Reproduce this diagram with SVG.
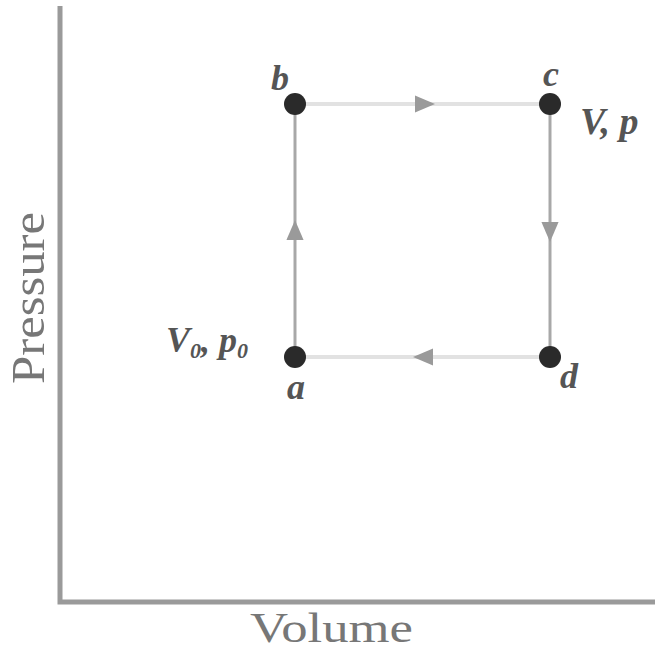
<svg xmlns="http://www.w3.org/2000/svg" width="655" height="653" viewBox="0 0 655 653">
<style>
.axis{stroke:#9a9a9a;stroke-width:5;fill:none}
.edge{fill:none;stroke-width:3}
.v{stroke:#a8a8a8}
.h{stroke:#e2e2e2;stroke-width:4}
.dot{fill:#2a2a2a}
.lbl{font-family:"Liberation Serif",serif;font-style:italic;font-weight:bold;fill:#555}
.ax{font-family:"Liberation Serif",serif;fill:#777}
</style>
<defs>
<marker id="ah" markerUnits="userSpaceOnUse" markerWidth="20" markerHeight="20" refX="7" refY="7" orient="auto" viewBox="0 0 14 14">
<path d="M0,1 L14,7 L0,13 Z" fill="#9a9a9a"/>
</marker>
</defs>
<rect width="655" height="653" fill="#ffffff"/>
<g id="axes">
<path class="axis" d="M60,6 L60,602 L655,602"/>
<text class="ax" font-size="46" transform="translate(44,298) rotate(-90)" text-anchor="middle" textLength="172" lengthAdjust="spacingAndGlyphs">Pressure</text>
<text class="ax" font-size="42" x="250" y="642" textLength="163" lengthAdjust="spacingAndGlyphs">Volume</text>
</g>
<g id="connectors">
<path class="edge v" d="M295,357 L295,230 L295,104" marker-mid="url(#ah)"/>
<path class="edge h" d="M295,104 L425,104 L550,104" marker-mid="url(#ah)"/>
<path class="edge v" d="M550,104 L550,232 L550,357" marker-mid="url(#ah)"/>
<path class="edge h" d="M550,357 L423,357 L295,357" marker-mid="url(#ah)"/>
</g>
<g id="node-a">
<circle class="dot" cx="295" cy="357" r="11"/>
<text class="lbl" font-size="36" x="296" y="399" text-anchor="middle">a</text>
<text class="lbl" font-size="36" x="166" y="352">V<tspan font-size="22" dy="6">0</tspan><tspan dy="-6">, p</tspan><tspan font-size="22" dy="6">0</tspan></text>
</g>
<g id="node-b">
<circle class="dot" cx="295" cy="104" r="11"/>
<text class="lbl" font-size="36" x="280" y="90" text-anchor="middle">b</text>
</g>
<g id="node-c">
<circle class="dot" cx="550" cy="104" r="11"/>
<text class="lbl" font-size="36" x="551" y="86" text-anchor="middle">c</text>
<text class="lbl" font-size="38" x="580" y="134">V, p</text>
</g>
<g id="node-d">
<circle class="dot" cx="550" cy="357" r="11"/>
<text class="lbl" font-size="36" x="560" y="388">d</text>
</g>
</svg>
